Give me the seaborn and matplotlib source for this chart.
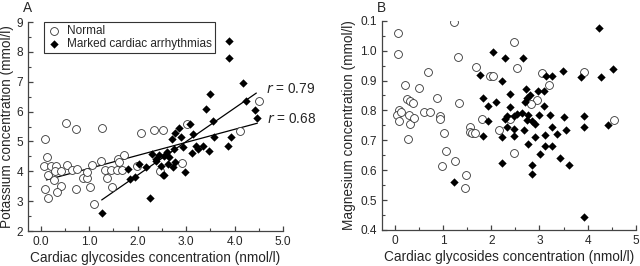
import numpy as np
import pandas as pd
import matplotlib
matplotlib.use("Agg")
import matplotlib.pyplot as plt
import seaborn as sns
from matplotlib.ticker import MultipleLocator

# ---------------- data ----------------
# Panel A: potassium vs cardiac glycosides
a_norm_x = [0.09, 0.53, 0.73, 1.26, 2.08, 2.34, 2.52, 0.14, 0.06, 0.22, 0.32, 0.15, 0.29, 0.28,
            0.43, 0.54, 0.65, 0.75, 0.43, 0.09, 0.16, 0.34, 0.73, 0.88, 0.96, 0.95, 1.02, 1.05,
            1.25, 1.33, 1.36, 1.46, 1.58, 1.67, 1.60, 1.72, 1.62, 1.47, 1.11, 1.98, 4.51, 3.02,
            4.12, 2.91, 2.46]
a_norm_y = [5.08, 5.63, 5.42, 5.45, 5.28, 5.37, 5.37, 4.49, 4.18, 4.18, 4.18, 3.87, 4.02, 3.70,
            4.02, 4.21, 4.05, 4.06, 3.51, 3.39, 3.11, 3.29, 3.42, 3.77, 3.77, 3.97, 3.46, 4.21,
            4.35, 4.05, 3.76, 4.05, 4.05, 4.05, 4.41, 4.55, 4.30, 3.48, 2.92, 4.18, 6.35, 5.57,
            5.34, 4.28, 4.00]
a_arr_x = [1.27, 1.81, 1.84, 1.94, 2.25, 2.03, 2.18, 2.29, 2.38, 2.54, 3.89, 3.88, 4.18, 3.49,
           4.23, 3.42, 4.42, 4.47, 3.56, 3.08, 2.86, 2.77, 2.89, 2.72, 3.15, 3.58, 3.92, 3.87,
           2.94, 2.75, 3.20, 3.35, 3.25, 3.13, 3.48, 2.54, 2.65, 2.77, 2.49, 2.63, 2.73, 2.53,
           2.98, 2.39, 2.45, 2.60]
a_arr_y = [2.61, 4.07, 3.74, 3.82, 3.10, 4.26, 4.13, 4.58, 4.35, 3.86, 8.37, 7.78, 6.97, 6.60,
           6.35, 6.09, 6.06, 5.78, 5.68, 5.57, 5.45, 5.29, 5.14, 5.08, 5.25, 5.16, 5.16, 4.86,
           4.80, 4.75, 4.86, 4.86, 4.75, 4.60, 4.67, 4.52, 4.47, 4.30, 4.19, 4.24, 4.13, 3.88,
           3.96, 4.41, 4.55, 4.65]

# regression lines as drawn in the figure (end points)
fit_norm_x = [0.12, 4.47]
fit_norm_y = [3.71, 5.61]
fit_arr_x = [1.26, 4.45]
fit_arr_y = [3.04, 6.62]

# Panel B: magnesium vs cardiac glycosides
b_norm_x = [0.06, 0.06, 1.23, 1.30, 0.20, 0.49, 0.68, 0.25, 0.30, 0.37, 0.87, 1.32, 0.07, 0.03,
            0.12, 0.29, 0.09, 0.30, 0.40, 0.59, 0.73, 0.94, 0.94, 1.02, 0.26, 1.06, 1.24, 0.97,
            1.48, 1.46, 1.56, 1.55, 1.60, 1.66, 1.80, 1.68, 1.98, 2.04, 2.16, 2.46, 2.53, 3.05,
            3.20, 3.93, 2.95, 2.83, 4.54, 2.47, 2.38]
b_norm_y = [1.060, 0.989, 1.097, 0.978, 0.886, 0.874, 0.927, 0.837, 0.831, 0.826, 0.841, 0.826,
            0.800, 0.786, 0.795, 0.786, 0.765, 0.756, 0.773, 0.794, 0.794, 0.782, 0.771, 0.724,
            0.704, 0.663, 0.632, 0.613, 0.584, 0.539, 0.743, 0.728, 0.725, 0.725, 0.772, 0.944,
            0.915, 0.915, 0.736, 1.028, 0.943, 0.924, 0.885, 0.930, 0.834, 0.823, 0.768, 0.658,
            0.770]
b_arr_x = [4.23, 2.03, 2.29, 2.65, 3.49, 3.86, 4.28, 4.52, 1.77, 2.22, 3.14, 3.26, 2.72, 2.96,
           3.09, 2.38, 2.80, 2.74, 2.70, 1.83, 1.94, 2.10, 2.39, 3.09, 2.32, 2.29, 2.48, 2.54,
           2.63, 2.77, 2.74, 2.84, 2.91, 3.00, 3.21, 3.50, 3.93, 1.94, 2.32, 2.46, 2.67, 3.26,
           3.56, 3.36, 3.93, 4.42, 1.82, 2.22, 2.46, 2.91, 3.12, 2.77, 3.12, 3.26, 3.01, 3.42,
           3.62, 2.23, 2.84, 2.84, 3.92, 1.23]
b_arr_y = [1.075, 0.995, 0.975, 0.976, 0.933, 0.911, 0.911, 0.939, 0.917, 0.897, 0.914, 0.915,
           0.872, 0.864, 0.864, 0.855, 0.853, 0.841, 0.828, 0.843, 0.816, 0.828, 0.813, 0.815,
           0.781, 0.770, 0.781, 0.788, 0.792, 0.786, 0.769, 0.764, 0.753, 0.783, 0.783, 0.779,
           0.781, 0.765, 0.744, 0.737, 0.733, 0.746, 0.735, 0.722, 0.743, 0.750, 0.715, 0.712,
           0.715, 0.712, 0.718, 0.688, 0.682, 0.680, 0.653, 0.641, 0.616, 0.625, 0.616, 0.588,
           0.442, 0.560]

group_labels = ["Normal", "Marked cardiac arrhythmias"]
r_labels = ["0.79", "0.68"]
a_xticks = [0, 1, 2, 3, 4, 5]
a_xticklabels = ["0.0", "1.0", "2.0", "3.0", "4.0", "5.0"]
a_yticks = [2, 3, 4, 5, 6, 7, 8, 9]
a_yticklabels = ["2", "3", "4", "5", "6", "7", "8", "9"]
b_xticks = [0, 1, 2, 3, 4, 5]
b_xticklabels = ["0", "1", "2", "3", "4", "5"]
b_yticks = [0.4, 0.5, 0.6, 0.7, 0.8, 0.9, 1.0, 1.1]
b_yticklabels = ["0.4", "0.5", "0.6", "0.7", "0.8", "0.9", "1.0", "0.1"]
xlabel = "Cardiac glycosides concentration (nmol/l)"
a_ylabel = "Potassium concentration (mmol/l)"
b_ylabel = "Magnesium concentration (mmol/l)"

# ---------------- style ----------------
sns.set_style("ticks")
plt.rcParams["font.family"] = ["Liberation Sans", "DejaVu Sans"]
TICK_FS = 8.6
LAB_FS = 9.8
LEG_FS = 8.5

fig = plt.figure(figsize=(6.4, 2.66), dpi=100)
axA = fig.add_axes([28 / 640, 35 / 266, 255 / 640, 209 / 266])
axB = fig.add_axes([381.7 / 640, 36 / 266, 254 / 640, 209.3 / 266])

circ_kw = dict(marker="o", s=32, facecolor="white", edgecolor="#333333", linewidth=0.6, zorder=3)
diam_kw = dict(marker="D", s=18, color="black", edgecolor="black", linewidth=0, zorder=4)

# Panel A
dfA_n = pd.DataFrame({"x": a_norm_x, "y": a_norm_y})
dfA_a = pd.DataFrame({"x": a_arr_x, "y": a_arr_y})
sns.lineplot(x=fit_norm_x, y=fit_norm_y, ax=axA, color="black", lw=0.9, zorder=2, legend=False)
sns.lineplot(x=fit_arr_x, y=fit_arr_y, ax=axA, color="black", lw=0.9, zorder=2, legend=False)
sns.scatterplot(data=dfA_n, x="x", y="y", ax=axA, label=group_labels[0], **circ_kw)
sns.scatterplot(data=dfA_a, x="x", y="y", ax=axA, label=group_labels[1], **diam_kw)

axA.set_xlim(-0.26, 5.0)
axA.set_ylim(2.0, 9.0)
axA.set_xticks(a_xticks)
axA.set_xticklabels(a_xticklabels)
axA.set_yticks(a_yticks)
axA.set_yticklabels(a_yticklabels)
axA.set_xlabel(xlabel, fontsize=LAB_FS, labelpad=2)
axA.set_ylabel(a_ylabel, fontsize=LAB_FS, labelpad=2)

leg = axA.legend(loc="upper left", bbox_to_anchor=(0.063, 1.0), fontsize=LEG_FS,
                 frameon=True, fancybox=False, edgecolor="#333333", framealpha=1,
                 handletextpad=0.5, borderpad=0.25, labelspacing=0.1, handlelength=1.2,
                 borderaxespad=0)
leg.get_frame().set_linewidth(0.8)

# r annotations next to the end of each line
for fx, fy, lab in [(fit_arr_x, fit_arr_y, r_labels[0]), (fit_norm_x, fit_norm_y, r_labels[1])]:
    axA.text(fx[-1] + 0.2, fy[-1] + 0.13, f"$r$ = {lab}", fontsize=LAB_FS,
             va="center", ha="left", clip_on=False)

# Panel B
dfB_n = pd.DataFrame({"x": b_norm_x, "y": b_norm_y})
dfB_a = pd.DataFrame({"x": b_arr_x, "y": b_arr_y})
sns.scatterplot(data=dfB_n, x="x", y="y", ax=axB, legend=False, **circ_kw)
sns.scatterplot(data=dfB_a, x="x", y="y", ax=axB, legend=False, **diam_kw)
axB.set_xlim(-0.28, 5.0)
axB.set_ylim(0.4, 1.1)
axB.set_xticks(b_xticks)
axB.set_xticklabels(b_xticklabels)
axB.set_yticks(b_yticks)
axB.set_yticklabels(b_yticklabels)
axB.set_xlabel(xlabel, fontsize=LAB_FS, labelpad=2)
axB.set_ylabel(b_ylabel, fontsize=LAB_FS, labelpad=3)

for ax, xm, ym in [(axA, 0.5, 0.5), (axB, 0.5, 0.05)]:
    sns.despine(ax=ax)
    ax.xaxis.set_minor_locator(MultipleLocator(xm))
    ax.yaxis.set_minor_locator(MultipleLocator(ym))
    ax.tick_params(which="major", direction="in", length=3.8, width=0.9, color="#444444",
                   labelsize=TICK_FS, pad=3.5)
    ax.tick_params(which="minor", direction="in", length=2.0, width=0.8, color="#444444")
    for sp in ["left", "bottom"]:
        ax.spines[sp].set_linewidth(0.9)
        ax.spines[sp].set_color("#444444")

fig.text(28 / 640, 1 - 8 / 266, "A", fontsize=LAB_FS, ha="center", va="center")
fig.text(381.7 / 640, 1 - 8 / 266, "B", fontsize=LAB_FS, ha="center", va="center")

fig.savefig("out.png", dpi=100)
